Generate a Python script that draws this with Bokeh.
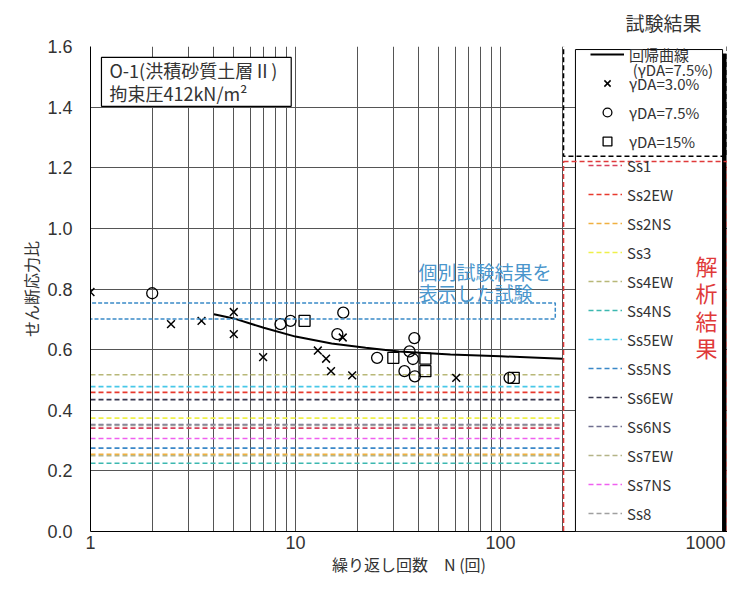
from bokeh.plotting import figure
from bokeh.models import (Range1d, FixedTicker, NumeralTickFormatter, BoxAnnotation,
                          Label, Legend, LegendItem)
from bokeh.embed import file_html
from bokeh.resources import INLINE

# ---------------- data ----------------
# gamma DA = 3.0 %  (x markers)
n_da30 = [1.0, 2.47, 3.48, 5.0, 5.0, 6.95, 12.85, 14.1, 14.9, 17.0, 18.9, 60.8]
v_da30 = [0.790, 0.684, 0.695, 0.724, 0.651, 0.575, 0.597, 0.570, 0.529, 0.640, 0.515, 0.507]
# gamma DA = 7.5 %  (circles)
n_da75 = [2.0, 8.45, 9.45, 16.0, 17.1, 25.0, 36.0, 37.4, 38.0, 34.0, 38.2, 110.7]
v_da75 = [0.786, 0.684, 0.695, 0.651, 0.722, 0.573, 0.594, 0.569, 0.638, 0.529, 0.512, 0.507]
# gamma DA = 15 %  (squares)
n_da15 = [11.07, 30.0, 43.0, 43.0, 116.0]
v_da15 = [0.695, 0.573, 0.570, 0.529, 0.507]
# regression curve (gamma DA = 7.5 %)
curve_n = [4.0, 5.0, 7.0, 10.0, 15.0, 22.0, 32.0, 57.0, 100.0, 200.0]
curve_v = [0.717, 0.703, 0.672, 0.643, 0.620, 0.606, 0.594, 0.584, 0.578, 0.570]
# analysis results (dashed horizontal lines)
ss_names = ["Ss1", "Ss2EW", "Ss2NS", "Ss3", "Ss4EW", "Ss4NS", "Ss5EW",
            "Ss5NS", "Ss6EW", "Ss6NS", "Ss7EW", "Ss7NS", "Ss8"]
ss_values = [0.341, 0.459, 0.255, 0.374, 0.517, 0.225, 0.478,
             0.275, 0.435, 0.353, 0.250, 0.307, 0.350]
ss_colors = ["#d8405a", "#e83a2e", "#f0b040", "#eef04a", "#b8b878", "#3cb8b0", "#48c8e8",
             "#3a88c8", "#383850", "#707090", "#b4b488", "#f060f0", "#a0a0a0"]
ss_extent = [1, 200]
x_ticks = [1, 10, 100, 1000]
x_grid = [1, 2, 3, 4, 5, 6, 7, 8, 9, 10, 20, 30, 40, 50, 60, 70, 80, 90, 100, 200]
y_ticks = [0.0, 0.2, 0.4, 0.6, 0.8, 1.0, 1.2, 1.4, 1.6]

FONT = "Noto Sans CJK JP"
NUMFONT = "Liberation Sans"
TXT = "#333333"

p = figure(width=727, height=578, x_axis_type="log",
           x_range=Range1d(1, 1280), y_range=Range1d(0, 1.6),
           output_backend="svg", toolbar_location=None,
           min_border_left=90, min_border_right=0, min_border_top=45, min_border_bottom=47)
p.outline_line_color = None
p.background_fill_color = "white"

# title above the legend panel
p.title.text = "試験結果"
p.title.text_font = FONT
p.title.text_font_size = "19px"
p.title.text_font_style = "normal"
p.title.text_color = TXT
p.title.align = "left"
p.title.vertical_align = "top"
p.title.offset = 535
p.title.standoff = 17

# grid
p.xgrid.ticker = FixedTicker(ticks=x_grid)
p.ygrid.ticker = FixedTicker(ticks=y_ticks)
for g in (p.xgrid, p.ygrid):
    g.grid_line_color = "#555555"
    g.grid_line_width = 1
p.xgrid.minor_grid_line_color = None

# axes
p.xaxis.ticker = FixedTicker(ticks=x_ticks)
p.xaxis.major_label_overrides = {t: str(t) for t in x_ticks}
p.yaxis.ticker = FixedTicker(ticks=y_ticks)
p.yaxis.formatter = NumeralTickFormatter(format="0.0")
for ax in (p.xaxis, p.yaxis):
    ax.major_tick_line_color = None
    ax.minor_tick_line_color = None
    ax.major_tick_out = 0
    ax.major_tick_in = 0
    ax.minor_tick_out = 0
    ax.minor_tick_in = 0
    ax.axis_line_color = "black"
    ax.major_label_text_font = NUMFONT
    ax.major_label_text_font_size = "18px"
    ax.major_label_text_color = TXT
    ax.axis_label_text_font = FONT
    ax.axis_label_text_font_size = "16px"
    ax.axis_label_text_font_style = "normal"
    ax.axis_label_text_color = TXT
p.xaxis.axis_label = "繰り返し回数　N (回)"
p.yaxis.axis_label = "せん断応力比"
p.xaxis.major_label_standoff = 4
p.xaxis.axis_label_standoff = 0
p.yaxis.major_label_standoff = 18
p.yaxis.axis_label_standoff = 1

# analysis lines
ss_renderers = []
for name, v, c in zip(ss_names, ss_values, ss_colors):
    r = p.segment(x0=ss_extent[0], x1=ss_extent[1], y0=v, y1=v,
                  line_color=c, line_width=1.6, line_dash="5 3")
    ss_renderers.append(r)

# regression curve and test points
curve_r = p.line(curve_n, curve_v, line_color="black", line_width=2)
x_r = p.scatter(n_da30, v_da30, marker="x", size=11, line_color="black", line_width=1.5)
c_r = p.scatter(n_da75, v_da75, marker="circle", size=11, line_color="black",
                fill_color=None, line_width=1.3)
s_r = p.scatter(n_da15, v_da15, marker="square", size=11, line_color="black",
                fill_color=None, line_width=1.3)

# blue dashed box + annotation
p.add_layout(BoxAnnotation(left=0.89, right=185, bottom=0.701, top=0.754,
                           fill_alpha=0, line_color="#3a8ac8", line_alpha=1, line_width=1.5,
                           line_dash="4 2", level="glyph"))
for txt, yy in (("個別試験結果を", 0.859), ("表示した試験", 0.787)):
    p.add_layout(Label(x=39.8, y=yy, text=txt, text_color="#4a96cc", text_font=FONT,
                       text_font_size="19px", text_baseline="middle"))

# info box top-left
p.add_layout(Label(x=1.131, y=1.564, text="O-1(洪積砂質土層Ⅱ)\n拘束圧412kN/m²",
                   text_font=FONT, text_font_size="18px", text_color=TXT,
                   text_baseline="top", text_line_height=0.88,
                   border_line_color="black", border_line_width=1.2, border_line_alpha=1,
                   background_fill_color="white", background_fill_alpha=1,
                   padding=dict(left=8, right=14, top=0, bottom=0)))

# legend panel (shadow, white box, dashed group boxes)
p.add_layout(BoxAnnotation(left=243, right=1266, bottom=-0.013, top=1.577,
                           fill_color="black", fill_alpha=1, line_color=None))
p.add_layout(BoxAnnotation(left=232, right=1211, bottom=0.0, top=1.59,
                           fill_color="white", fill_alpha=1, line_color="black",
                           line_alpha=1, line_width=1))
p.add_layout(BoxAnnotation(left=203, right=1276, bottom=1.238, top=1.616,
                           fill_alpha=0, line_color="black", line_alpha=1,
                           line_width=1.5, line_dash="5 3"))
p.add_layout(BoxAnnotation(left=203, right=1276, bottom=-0.023, top=1.221,
                           fill_alpha=0, line_color="#e03a3a", line_alpha=1,
                           line_width=1.5, line_dash="5 3"))

p.add_layout(Label(x=441, y=1.524, text="(γDA=7.5%)", text_font=FONT, text_font_size="15px",
                   text_color=TXT, text_baseline="middle"))
p.add_layout(Label(x=1011, y=0.744, text="解\n析\n結\n果", text_font=FONT, text_font_size="22px",
                   text_color="#e03a3a", text_align="center", text_baseline="middle",
                   text_line_height=0.85))

common = dict(border_line_color=None, background_fill_alpha=0, padding=0, margin=0,
              spacing=7, glyph_width=34, glyph_height=22, label_height=22, label_standoff=5,
              label_text_font=FONT, label_text_font_size="15px", label_text_color=TXT)
leg1 = Legend(items=[LegendItem(label="回帰曲線", renderers=[curve_r]),
                     LegendItem(label="γDA=3.0%", renderers=[x_r]),
                     LegendItem(label="γDA=7.5%", renderers=[c_r]),
                     LegendItem(label="γDA=15%", renderers=[s_r])],
              location=(500, 379), **common)
leg2 = Legend(items=[LegendItem(label=n, renderers=[r]) for n, r in zip(ss_names, ss_renderers)],
              location=(498, 7), **common)
p.add_layout(leg1, "center")
p.add_layout(leg2, "center")

open("out.html", "w").write(file_html(p, INLINE))
